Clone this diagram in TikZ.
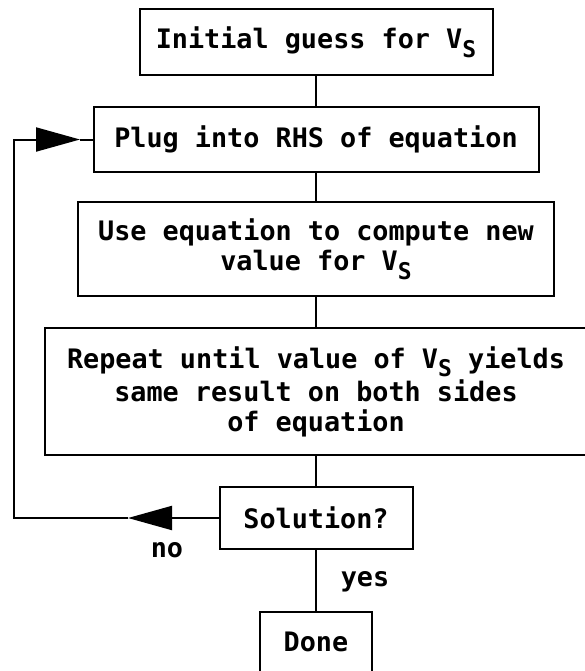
\documentclass[tikz,border=0pt]{standalone}
\usepackage{fontspec}
\setmonofont{DejaVu Sans Mono}
\usetikzlibrary{positioning,arrows.meta}
\newcommand{\flowfont}{\ttfamily\bfseries\fontsize{13.4}{15}\selectfont}
\newcommand{\Vs}{V\raisebox{-0.6ex}{\fontsize{11.5}{11.5}\selectfont S}}
\tikzset{
  stepbox/.style={draw,line width=1pt,align=center,inner sep=0pt,font=\flowfont},
  flowline/.style={line width=1pt},
  bigtip/.style={-{Triangle[length=22pt,width=12pt]}},
  flowlabel/.style={font=\flowfont,inner sep=0pt}
}

\begin{document}
\begin{tikzpicture}[x=0.5pt,y=-0.5pt]
  \useasboundingbox (0,0) rectangle (585,671);
  \clip (0,0) rectangle (585,671);
  % Schritte von oben nach unten
  \node[stepbox,minimum width=176.5pt,minimum height=33pt] (guess) at (316,42) {Initial guess for \Vs};
  \node[stepbox,minimum width=222.5pt,minimum height=32.5pt] (plug) at (316,139.5) {Plug into RHS of equation};
  \node[stepbox,minimum width=238pt,minimum height=47pt] (update) at (316,249) {Use equation to compute new\\value for \Vs};
  \node[stepbox,minimum width=271pt,minimum height=63.5pt] (repeat) at (316,391.5) {Repeat until value of \Vs{} yields\\same result on both sides\\of equation};
  \node[stepbox,minimum width=96.5pt,minimum height=31pt] (check) at (316,518) {Solution?};
  \node[stepbox,minimum width=56pt,minimum height=30pt] (done) at (316,642) {Done};
  \draw[flowline] (guess) -- (plug);
  \draw[flowline] (plug) -- (update);
  \draw[flowline] (update) -- (repeat);
  \draw[flowline] (repeat) -- (check);
  \draw[flowline] (check) -- (done);
  % Rueckfuehrung
  \coordinate (notip) at (128,518);
  \coordinate (loopbot) at (14,518);
  \coordinate (looptop) at (14,139.5);
  \coordinate (backtip) at (80,139.5);
  \draw[flowline,bigtip] (check.west) -- (notip);
  \draw[flowline,bigtip] (notip) -- (loopbot) -- (looptop) -- (backtip);
  \draw[flowline] (backtip) -- (plug.west);
  \node[flowlabel] (nolabel) at (167,550) {no};
  \node[flowlabel] (yeslabel) at (365,582) {yes};
\end{tikzpicture}
\end{document}
